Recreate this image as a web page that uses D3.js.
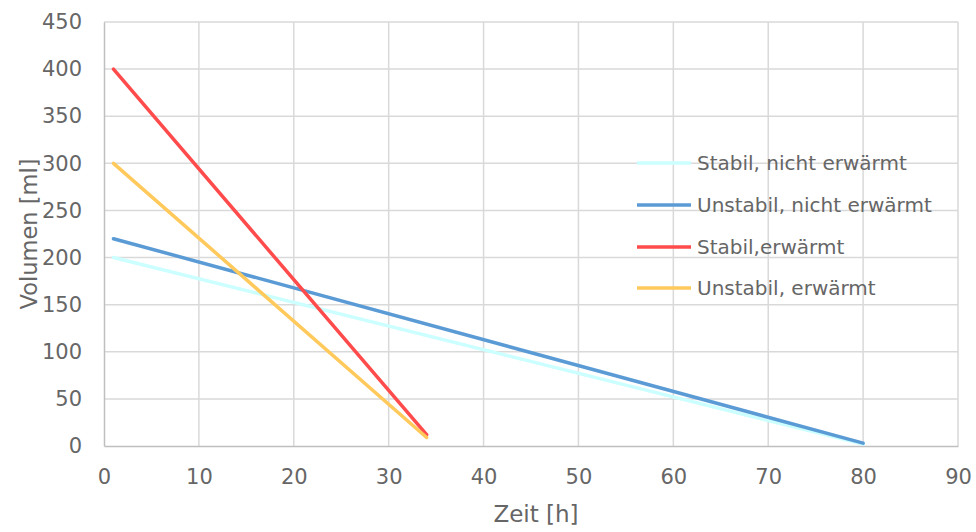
<!DOCTYPE html>
<html>
<head>
<meta charset="utf-8">
<script src="https://cdn.jsdelivr.net/npm/d3@7"></script>
<style>
  body { margin: 0; background: #fff; }
  text { font-family: "DejaVu Sans", sans-serif; fill: #666666; }
</style>
</head>
<body>
<div id="chart"></div>
<script>
// Daten
const seriesNames = ['Stabil, nicht erwärmt', 'Unstabil, nicht erwärmt', 'Stabil,erwärmt', 'Unstabil, erwärmt'];
const stabilNichtErwaermt = [[1, 200], [80, 2]];
const unstabilNichtErwaermt = [[1, 220], [80, 3]];
const stabilErwaermt = [[1, 400], [34, 12]];
const unstabilErwaermt = [[1, 300], [34, 9]];
const xTicks = [0, 10, 20, 30, 40, 50, 60, 70, 80, 90];
const yTicks = [0, 50, 100, 150, 200, 250, 300, 350, 400, 450];

const colors = ['#ccffff', '#5b9bd5', '#ff4b4b', '#ffc95c'];
const allSeries = [stabilNichtErwaermt, unstabilNichtErwaermt, stabilErwaermt, unstabilErwaermt];

const width = 976, height = 532;
const margin = {top: 22, right: 18, bottom: 86, left: 104};
const w = width - margin.left - margin.right;
const h = height - margin.top - margin.bottom;

const svg = d3.select('#chart').append('svg')
  .attr('width', width).attr('height', height);
const g = svg.append('g').attr('transform', `translate(${margin.left},${margin.top})`);

const x = d3.scaleLinear().domain([0, 90]).range([0, w]);
const y = d3.scaleLinear().domain([0, 450]).range([h, 0]);

// Gitterlinien
g.append('g').selectAll('line').data(yTicks.filter(d => d > 0)).enter().append('line')
  .attr('x1', 0).attr('x2', w).attr('y1', d => y(d)).attr('y2', d => y(d))
  .attr('stroke', '#d9d9d9').attr('stroke-width', 1.5);
g.append('g').selectAll('line').data(xTicks.filter(d => d > 0)).enter().append('line')
  .attr('y1', 0).attr('y2', h).attr('x1', d => x(d)).attr('x2', d => x(d))
  .attr('stroke', '#d9d9d9').attr('stroke-width', 1.5);

// Achsen
const xAxis = g.append('g').attr('transform', `translate(0,${h})`)
  .call(d3.axisBottom(x).tickValues(xTicks).tickSize(0).tickPadding(23));
const yAxis = g.append('g')
  .call(d3.axisLeft(y).tickValues(yTicks).tickSize(0).tickPadding(22));
[xAxis, yAxis].forEach(a => {
  a.attr('font-family', null).attr('font-size', null);
  a.select('.domain').attr('stroke', '#bfbfbf').attr('stroke-width', 1.5);
  a.selectAll('text').style('font-size', '21px').attr('fill', '#666666')
    .style('font-family', '"DejaVu Sans", sans-serif');
});

// Linien
const line = d3.line().x(d => x(d[0])).y(d => y(d[1]));
g.selectAll('.series').data(allSeries).enter().append('path')
  .attr('class', 'series')
  .attr('d', line)
  .attr('fill', 'none')
  .attr('stroke', (d, i) => colors[i])
  .attr('stroke-width', 3.5)
  .attr('stroke-linecap', 'round');

// Achsentitel
svg.append('text').attr('x', margin.left + w / 2 + 5).attr('y', 522)
  .attr('text-anchor', 'middle').style('font-size', '23px').text('Zeit [h]');
svg.append('text').attr('transform', `translate(37,${margin.top + h / 2}) rotate(-90)`)
  .attr('text-anchor', 'middle').style('font-size', '22.5px').text('Volumen [ml]');

// Legende
const legendY = [163, 205, 247, 288];
const legend = svg.append('g');
seriesNames.forEach((name, i) => {
  legend.append('line')
    .attr('x1', 637).attr('x2', 691).attr('y1', legendY[i]).attr('y2', legendY[i])
    .attr('stroke', colors[i]).attr('stroke-width', 3.5);
  legend.append('text').attr('x', 697).attr('y', legendY[i] + 7)
    .style('font-size', '20px').text(name);
});
</script>
</body>
</html>
